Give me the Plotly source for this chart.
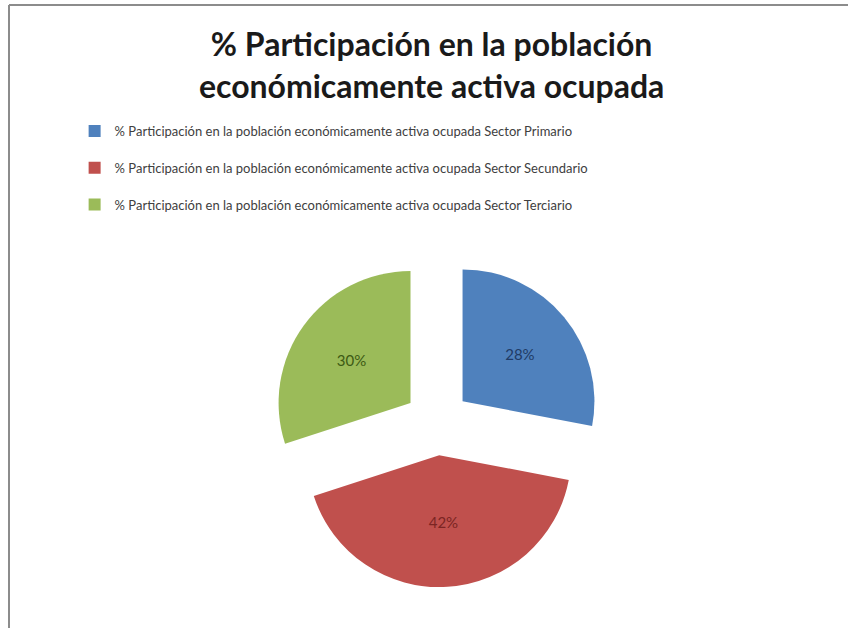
import plotly.graph_objects as go

# chart data
title_lines = ['% Participación en la población', 'económicamente activa ocupada']
labels = ['% Participación en la población económicamente activa ocupada Sector Primario',
          '% Participación en la población económicamente activa ocupada Sector Secundario',
          '% Participación en la población económicamente activa ocupada Sector Terciario']
values = [28, 42, 30]

slice_colors = ['#4F81BD', '#C0504D', '#9BBB59']
label_colors = ['#1F3B66', '#7B2523', '#3D5A14']

# blank second line just to open up the legend rows
legend_labels = [lab + '<br> ' for lab in labels]

fig = go.Figure(go.Pie(labels=legend_labels,
                       values=values,
                       sort=False,
                       direction='clockwise',
                       rotation=0,
                       pull=0.25,
                       marker={'colors': slice_colors, 'line': {'width': 0}},
                       texttemplate='%{percent:.0%}',
                       textposition='inside',
                       insidetextorientation='horizontal',
                       insidetextfont={'color': label_colors, 'size': 15, 'family': 'Lato'},
                       domain={'x': [0.317, 0.714], 'y': [0.065, 0.59]},
                       hoverinfo='label+percent'))

fig.update_layout(width=848, height=628,
                  margin={'l': 0, 'r': 0, 't': 0, 'b': 0},
                  paper_bgcolor='white',
                  plot_bgcolor='white',
                  font={'family': 'Lato', 'color': '#404040'},
                  title={'text': '<br>'.join(title_lines),
                         'x': 0.509, 'xanchor': 'center',
                         'y': 1 - 56 / 628, 'yanchor': 'middle', 'yref': 'container',
                         'font': {'family': 'Lato', 'size': 32, 'weight': 700, 'color': '#1a1a1a'}},
                  legend={'x': 0.088, 'xanchor': 'left',
                          'y': 1 - 116 / 628, 'yanchor': 'top',
                          'valign': 'top',
                          'font': {'size': 13, 'family': 'Lato', 'color': '#404040'},
                          'bgcolor': 'rgba(0,0,0,0)'},
                  shapes=[{'type': 'line', 'xref': 'paper', 'yref': 'paper',
                           'x0': 9 / 848, 'x1': 9 / 848, 'y0': -0.01, 'y1': 1 - 5 / 628,
                           'line': {'color': '#8c8c8c', 'width': 2}},
                          {'type': 'line', 'xref': 'paper', 'yref': 'paper',
                           'x0': 9 / 848, 'x1': 1.01, 'y0': 1 - 5 / 628, 'y1': 1 - 5 / 628,
                           'line': {'color': '#8c8c8c', 'width': 2}}])

# page body has a default 8px margin; drop it so the figure sits at 0,0 (and no scrollbars)
fig.write_html('out.html', config={'displayModeBar': False},
               post_script="document.body.style.margin='0';document.body.style.overflow='hidden';")
